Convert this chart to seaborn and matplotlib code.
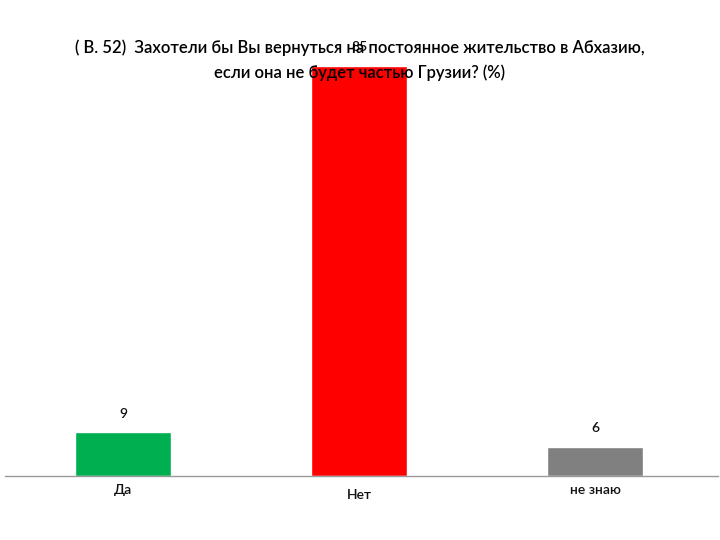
import matplotlib.pyplot as plt
import seaborn as sns
import pandas as pd

sns.set_style('white')
plt.rcParams['font.family'] = ['Lato', 'DejaVu Sans']

categories = ['Да', 'Нет', 'не знаю']
values = [9, 85, 6]
colors = ['#00b050', '#ff0000', '#808080']
title = '( В. 52)  Захотели бы Вы вернуться на постоянное жительство в Абхазию,\nесли она не будет частью Грузии? (%)'

df = pd.DataFrame({'answer': categories, 'pct': values})

fig = plt.figure(figsize=(7.2, 5.4), dpi=100)
ax = fig.add_axes([0.007, 0.119, 0.99, 0.759])
sns.barplot(data=df, x='answer', y='pct', hue='answer', palette=colors,
            width=0.405, legend=False, saturation=1, ax=ax)
ax.set_xlim(-0.5, 2.52)
ax.set_ylim(0, 85)
ax.set_xlabel('')
ax.set_ylabel('')
ax.set_yticks([])
ax.set_xticks([])
for s in ['top', 'right', 'left']:
    ax.spines[s].set_visible(False)
ax.spines['bottom'].set_color('#999999')
ax.spines['bottom'].set_linewidth(1)

for i, (cat, v) in enumerate(zip(categories, values)):
    ax.annotate(str(v), (i, v), xytext=(0, 9), textcoords='offset points',
                ha='center', va='bottom', fontsize=10, color='#111111',
                fontweight='semibold', annotation_clip=False)
    dy = -14 if cat == 'Нет' else -10
    ax.annotate(cat, (i, 0), xytext=(0, dy), textcoords='offset points',
                ha='center', va='center', fontsize=10, color='#111111',
                fontweight='semibold', annotation_clip=False)

fig.text(0.5, 0.888, title, ha='center', va='center', fontsize=12,
         color='#000000', fontweight='semibold', linespacing=1.6, zorder=10)

fig.savefig('out.png', dpi=100)
